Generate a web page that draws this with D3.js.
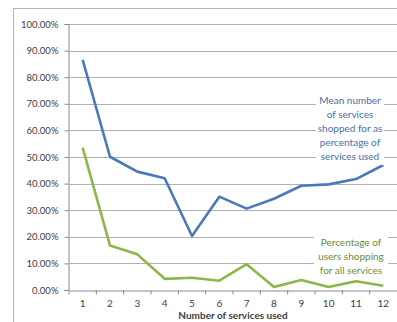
<!DOCTYPE html>
<html>
<head>
<meta charset="utf-8">
<script src="https://cdn.jsdelivr.net/npm/d3@7"></script>
<style>
  html, body { margin: 0; padding: 0; background: #fff; }
  svg { display: block; }
  text { font-family: Lato, "Open Sans", sans-serif; }
</style>
</head>
<body>
<svg id="chart" width="397" height="322"></svg>
<script>
// Number of services used
const categories = [1, 2, 3, 4, 5, 6, 7, 8, 9, 10, 11, 12];
// Mean number of services shopped for, as % of services used
const meanShopped = [86.5, 50.1, 44.5, 42.0, 20.3, 35.1, 30.6, 34.3, 39.2, 39.7, 41.7, 47.0];
// Percentage of users shopping for all services
const allServices = [53.5, 16.7, 13.4, 4.2, 4.6, 3.5, 9.7, 1.1, 3.8, 1.1, 3.3, 1.6];
const yTicks = [0, 10, 20, 30, 40, 50, 60, 70, 80, 90, 100];
const meanLabel = ["Mean number", "of services", "shopped for as", "percentage of", "services used"];
const allLabel = ["Percentage of", "users shopping", "for all services"];

const svg = d3.select("#chart");

// chart frame
svg.append("rect")
  .attr("x", 13.5).attr("y", 8.5)
  .attr("width", 400).attr("height", 330)
  .attr("fill", "#fff").attr("stroke", "#b5b5b5").attr("stroke-width", 1);

const plot = { left: 69, right: 397, top: 24, bottom: 290 };

const x = d3.scaleBand().domain(categories).range([plot.left, plot.right]);
const y = d3.scaleLinear().domain([0, 100]).range([plot.bottom, plot.top]);

// horizontal gridlines
svg.append("g")
  .selectAll("line")
  .data(yTicks.filter(d => d > 0))
  .join("line")
  .attr("x1", plot.left).attr("x2", plot.right)
  .attr("y1", d => Math.round(y(d)) + 0.5).attr("y2", d => Math.round(y(d)) + 0.5)
  .attr("stroke", "#b0b0b0").attr("stroke-width", 1.2);

// y axis
const yAxis = svg.append("g")
  .attr("transform", `translate(${plot.left - 0.5},0)`)
  .call(d3.axisLeft(y).tickValues(yTicks).tickSize(4).tickPadding(6)
    .tickFormat(d => d.toFixed(2) + "%"));
yAxis.select(".domain").attr("stroke", "#8a8a8a");
yAxis.selectAll(".tick line").attr("stroke", "#8a8a8a");
yAxis.selectAll(".tick text")
  .attr("fill", "#404040").style("font-size", "9.5px");

// x axis with ticks at category boundaries
const xAxis = svg.append("g")
  .attr("transform", `translate(0,${Math.round(plot.bottom) + 0.5})`)
  .call(d3.axisBottom(x).tickSize(0).tickPadding(9));
xAxis.select(".domain").attr("stroke", "#8a8a8a");
xAxis.selectAll(".tick text")
  .attr("fill", "#404040").style("font-size", "10px");
xAxis.selectAll(".boundary")
  .data(categories)
  .join("line")
  .attr("class", "boundary")
  .attr("x1", d => x(d)).attr("x2", d => x(d))
  .attr("y1", 0).attr("y2", 4)
  .attr("stroke", "#8a8a8a");

svg.append("text")
  .attr("x", 233).attr("y", 319)
  .attr("text-anchor", "middle")
  .attr("fill", "#404040")
  .style("font-size", "10px").style("font-weight", "bold")
  .text("Number of services used");

// series lines
const line = d3.line()
  .x((d, i) => x(categories[i]) + x.bandwidth() / 2)
  .y(d => y(d));

svg.append("path")
  .datum(allServices)
  .attr("d", line)
  .attr("fill", "none").attr("stroke", "#8db64a")
  .attr("stroke-width", 2.6).attr("stroke-linejoin", "round");

svg.append("path")
  .datum(meanShopped)
  .attr("d", line)
  .attr("fill", "none").attr("stroke", "#4a79bb")
  .attr("stroke-width", 2.6).attr("stroke-linejoin", "round");

// series labels on white panels
function seriesLabel(lines, cx, y0, color, boxW) {
  const g = svg.append("g");
  const lh = 14;
  g.append("rect")
    .attr("x", cx - boxW / 2).attr("y", y0 - 11)
    .attr("width", boxW).attr("height", lh * lines.length + 2)
    .attr("fill", "#fff");
  g.selectAll("text")
    .data(lines)
    .join("text")
    .attr("x", cx).attr("y", (d, i) => y0 + i * lh)
    .attr("text-anchor", "middle")
    .attr("fill", color)
    .style("font-size", "10px")
    .text(d => d);
}
seriesLabel(meanLabel, 350, 104, "#4a6fa8", 68);
seriesLabel(allLabel, 351, 246, "#6d8c3c", 74);
</script>
</body>
</html>
